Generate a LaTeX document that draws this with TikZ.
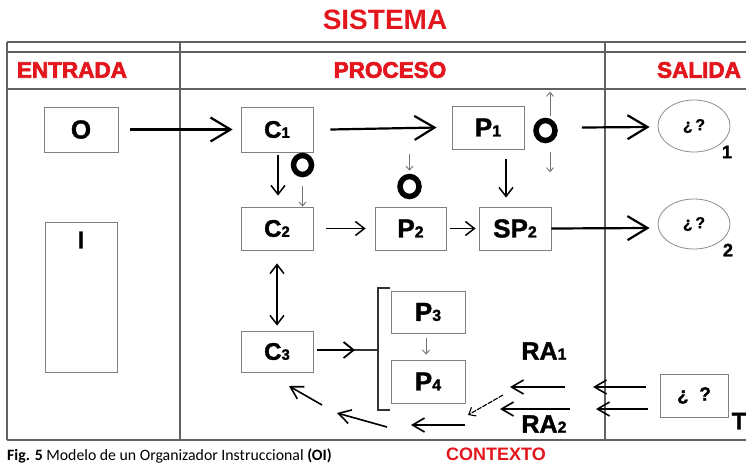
\documentclass[tikz,border=0pt]{standalone}
\usepackage{fontspec}
\setmainfont{Liberation Sans}
\newfontfamily\lblfont{Carlito}
\newfontfamily\heavyfont[FakeBold=3]{Liberation Sans Bold}
\newfontfamily\boxfont[FakeBold=1.5]{Liberation Sans Bold}
\usetikzlibrary{arrows.meta,shapes.geometric,calc}
\definecolor{hdred}{HTML}{E3161E}
\newcommand{\idxsub}[1]{{\fontsize{16}{16}\selectfont #1}}
\newcommand{\csub}[1]{{\fontsize{15}{15}\selectfont #1}}
\begin{document}
\begin{tikzpicture}[x=1pt,y=-1pt,
  frame/.style={draw=black!62, line width=1.3pt},
  header/.style={text=hdred, font=\heavyfont\fontsize{22.5}{22.5}\selectfont, inner sep=0},
  box/.style={draw=black!50, line width=0.8pt, inner sep=0,
    minimum width=72pt, minimum height=43pt,
    font=\boxfont\fontsize{26}{26}\selectfont},
  cbox/.style={box, font=\boxfont\fontsize{24}{24}\selectfont},
  oval/.style={draw=black!45, line width=0.8pt, ellipse, inner sep=0,
    minimum width=72pt, minimum height=52pt,
    font=\boxfont\fontsize{16}{16}\selectfont},
  ring/.style={draw=black, ellipse, line width=5.5pt, inner sep=0,
    minimum width=19pt, minimum height=20pt},
  big/.style={line width=2.2pt, -{Straight Barb[length=20pt,width=24pt,line width=2.2pt]}},
  mid/.style={line width=1.5pt, -{Straight Barb[length=9pt,width=14pt,line width=1.5pt]}},
  back/.style={line width=1.6pt, -{Straight Barb[length=12pt,width=14pt,line width=1.6pt]}},
  tiny/.style={draw=black!55, line width=0.9pt, -{Straight Barb[length=4pt,width=7pt]}},
  idx/.style={font=\boxfont\fontsize{18}{18}\selectfont, inner sep=0},
  ralbl/.style={font=\boxfont\fontsize{25}{25}\selectfont, inner sep=0}
]
\useasboundingbox (0,0) rectangle (746,467);

% title and column frame
\node[text=hdred, font=\bfseries\fontsize{28}{28}\selectfont, inner sep=0] (title) at (385,20) {SISTEMA};
\draw[frame] (7,42) -- (746,42);
\draw[frame] (7,52) -- (746,52);
\draw[frame] (7,89) -- (746,89);
\draw[frame] (7,440) -- (746,440);
\draw[frame] (7,42) -- (7,440);
\draw[frame] (180,42) -- (180,440);
\draw[frame] (605,42) -- (605,440);
\node[header] (hin) at (72,70) {ENTRADA};
\node[header] (hproc) at (390,70) {PROCESO};
\node[header] (hout) at (699,70) {SALIDA};

% input column
\node[box, minimum width=74pt, minimum height=45pt, font=\boxfont\fontsize{26}{26}\selectfont] (o) at (81,129.5) {O};
\node[box, minimum height=150pt] (i) at (81,297) {};
\node[font=\boxfont\fontsize{24}{24}\selectfont, inner sep=0] (ilbl) at (81,240) {I};

% process column
\node[cbox, minimum height=45pt] (c1) at (277,129.5) {C\csub{1}};
\node[box] (p1) at (488,127.5) {P\idxsub{1}};
\node[cbox] (c2) at (277,228.5) {C\csub{2}};
\node[box, minimum width=71pt] (p2) at (410.5,228.5) {P\idxsub{2}};
\node[box] (sp2) at (515,228.5) {SP\idxsub{2}};
\node[cbox, minimum height=41pt] (c3) at (277,351.5) {C\csub{3}};
\node[box, minimum width=74pt, minimum height=42pt] (p3) at (428,312) {P\idxsub{3}};
\node[box, minimum width=74pt] (p4) at (428,381.5) {P\idxsub{4}};

\node[ring, minimum width=18pt, minimum height=19pt] (r1) at (302.5,165) {};
\node[ring] (r2) at (409.5,186.5) {};
\node[ring] (r3) at (545.5,130.5) {};

% output column
\node[oval] (e1) at (694,126) {¿\,?};
\node[oval, minimum height=50pt] (e2) at (694,224) {¿\,?};
\node[idx] (n1) at (727,152) {1};
\node[idx] (n2) at (728,250) {2};
\node[box, minimum width=68pt, font=\boxfont\fontsize{19}{19}\selectfont] (t) at (694,395.5) {¿\;\;?};
\node[idx, font=\boxfont\fontsize{24}{24}\selectfont] (tl) at (739,421) {T};

% feedback labels
\node[ralbl] (ra1) at (544,351) {RA\idxsub{1}};
\node[ralbl] (ra2) at (544,424) {RA\idxsub{2}};
\node[text=hdred, font=\bfseries\fontsize{18}{18}\selectfont, inner sep=0] (ctx) at (496,454) {CONTEXTO};

% caption
\node[anchor=west, font=\lblfont\fontsize{15.8}{15.8}\selectfont, inner sep=0] (cap) at (7,456)
  {\textbf{Fig. 5} Modelo de un Organizador Instruccional \textbf{(OI)}};

% main flow
\draw[big] ($(o.east)+(12,0)$) -- ($(c1.west)+(-8,0)$);
\draw[big] ($(c1.east)+(17,0)$) -- ($(p1.west)+(-15,0)$);
\draw[big] ($(r3.east)+(24,-3)$) -- ($(e1.west)+(-8,1)$);
\draw[big] (sp2.east) -- ($(e2.west)+(-8,4)$);
\draw[mid] ($(c1.south)+(1,3)$) -- ($(c2.north)+(1,-11)$);
\draw[mid] ($(p1.south)+(18,10)$) -- ($(sp2.north)+(-9,-9)$);
\draw[mid] ($(c2.east)+(13,0)$) -- ($(p2.west)+(-9,0)$);
\draw[mid] ($(p2.east)+(4,0)$) -- ($(sp2.west)+(-3,0)$);
\draw[line width=1.5pt, {Straight Barb[length=9pt,width=14pt,line width=1.5pt]}-{Straight Barb[length=9pt,width=14pt,line width=1.5pt]}]
  ($(c2.south)+(0,13)$) -- ($(c3.north)+(0,-5)$);

% small signal arrows around the rings
\draw[tiny] ($(r1.south)+(0,9)$) -- (c2.north -| r1);
\draw[tiny] ($(r2.north)+(0,-20)$) -- ($(r2.north)+(0,-3)$);
\draw[tiny] ($(r3.north)+(4.5,-2)$) -- ($(r3.north)+(4.5,-26)$);
\draw[tiny] ($(r3.south)+(4.5,9)$) -- ($(r3.south)+(4.5,29)$);
\draw[tiny] ($(p3.south)+(-2,5)$) -- ($(p4.north)+(-2,-5)$);

% bracket gathering P3 and P4
\coordinate (bt) at (378,350);
\draw[line width=1.8pt, black!80] (390,288) -- (378,288) -- (378,410) -- (390,410);
\draw[line width=1.8pt, black!80] (350,350) -- (bt);
\draw[line width=1.8pt, -{Straight Barb[length=10pt,width=16pt,line width=1.8pt]}] ($(c3.east)+(4,-1.5)$) -- (355,350);

% return paths from T
\draw[back] ($(t.west)+(-14,-8.5)$) -- (593,387);
\draw[back] ($(t.west)+(-12,13.5)$) -- (596,409);
\draw[back] (565,387) -- (510,387);
\draw[back] (570,409) -- (500,409);
\draw[line width=1.1pt, dash pattern=on 5pt off 1.2pt, -{Straight Barb[length=6pt,width=10pt,line width=1.1pt]}] (503,395) -- (468,415);
\draw[back] (465,425) -- (411,425);
\draw[back] (387,427) -- (337,413);
\coordinate (c3in) at (289,386);
\draw[back] (322,405) -- (c3in);
\end{tikzpicture}
\end{document}
